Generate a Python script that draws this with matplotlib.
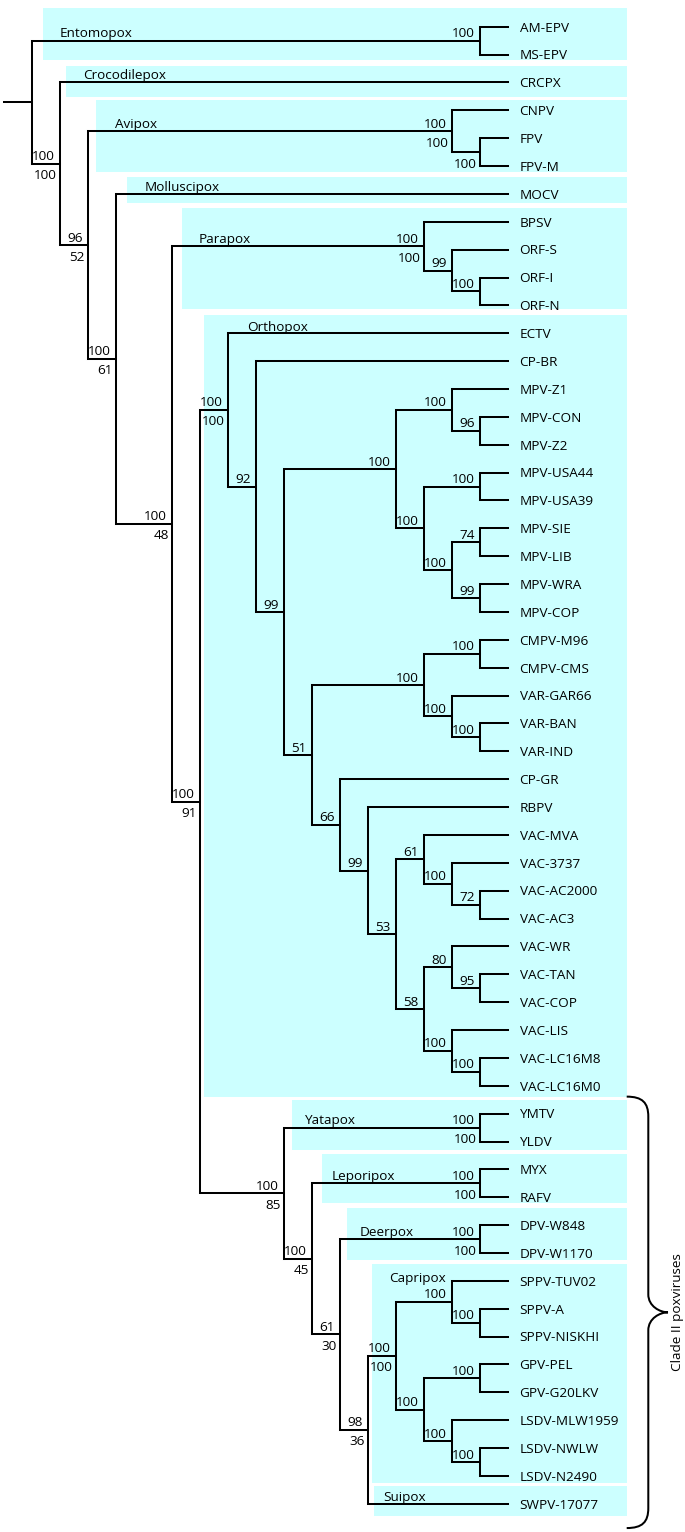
import matplotlib
matplotlib.use("Agg")
import matplotlib.pyplot as plt
from matplotlib.path import Path
from matplotlib.patches import PathPatch, Rectangle
from matplotlib.collections import LineCollection

# ---------------- data ----------------
# Tree topology with support values ("top/bottom") and branch lengths (in cladogram steps)
mpv_clade = ("((MPV-Z1:2,(MPV-CON:1,MPV-Z2:1)96:1)100:2,"
             "((MPV-USA44:1,MPV-USA39:1)100:2,((MPV-SIE:1,MPV-LIB:1)74:1,"
             "(MPV-WRA:1,MPV-COP:1)99:1)100:1)100:1)100:4")
var_clade = ("((CMPV-M96:1,CMPV-CMS:1)100:2,(VAR-GAR66:2,(VAR-BAN:1,VAR-IND:1)100:1)100:1)100:4")
vac61 = "(VAC-MVA:3,(VAC-3737:2,(VAC-AC2000:1,VAC-AC3:1)72:1)100:1)61:1"
vac58 = ("((VAC-WR:2,(VAC-TAN:1,VAC-COP:1)95:1)80:1,"
         "(VAC-LIS:2,(VAC-LC16M8:1,VAC-LC16M0:1)100:1)100:1)58:1")
ortho = ("(ECTV:10,(CP-BR:9,(" + mpv_clade + ",(" + var_clade +
         ",(CP-GR:6,(RBPV:5,(" + vac61 + "," + vac58 + ")53:1)99:1)66:1)51:1)99:1)92:1)100/100:1")
capri = ("((SPPV-TUV02:2,(SPPV-A:1,SPPV-NISKHI:1)100:1)100:2,"
         "((GPV-PEL:1,GPV-G20LKV:1)100:2,(LSDV-MLW1959:2,(LSDV-NWLW:1,LSDV-N2490:1)100:1)100:1)100:1)100/100:1")
clade2 = ("((YMTV:1,YLDV:1)100/100:7,((MYX:1,RAFV:1)100/100:6,"
          "((DPV-W848:1,DPV-W1170:1)100/100:5,(" + capri + ",SWPV-17077:5)98/36:1)61/30:1)100/45:1)100/85:3")
tree_newick = ("((AM-EPV:1,MS-EPV:1)100:16,(CRCPX:16,((CNPV:2,(FPV:1,FPV-M:1)/100:1)100/100:13,"
               "(MOCV:14,((BPSV:3,(ORF-S:2,(ORF-I:1,ORF-N:1)100:1)99:1)100/100:9,"
               "(" + ortho + "," + clade2 + ")100/91:1)100/48:2)100/61:1)96/52:1)100/100:1);")
root_stub = 1.0

clade_names = ["Entomopox", "Crocodilepox", "Avipox", "Molluscipox", "Parapox", "Orthopox",
               "Yatapox", "Leporipox", "Deerpox", "Capripox", "Suipox"]
clade_first = ["AM-EPV", "CRCPX", "CNPV", "MOCV", "BPSV", "ECTV",
               "YMTV", "MYX", "DPV-W848", "SPPV-TUV02", "SWPV-17077"]
clade_last = ["MS-EPV", "CRCPX", "FPV-M", "MOCV", "ORF-N", "VAC-LC16M0",
              "YLDV", "RAFV", "DPV-W1170", "LSDV-N2490", "SWPV-17077"]

bracket_label = "Clade II poxviruses"
bracket_first = "YMTV"
bracket_last = "SWPV-17077"

# ---------------- layout / style ----------------
W, H = 685, 1532
STEP_PX = 28.0      # px per cladogram step
X0_PX = 3.5         # px of depth 0
LEAF_PX = 27.87     # px per leaf
Y0_PX = 26.7        # px of first leaf
FONT = "Open Sans"
FS = 9.7
LW = 1.45
BOX_COLOR = "#ccffff"

# per-clade layout tweaks (px)
box_left_pad = [11, 6.7, 8.2, 11.5, 10, 4.8, 8.8, 10, 7.8, 4.2, 6.6]
box_top_pad = [0.66, 0.60, 0.37, 0.62, 0.48, 0.66, 0.49, 0.54, 0.62, 0.60, 0.65]   # leaf units
box_bot_pad = [0.20, 0.51, 0.20, 0.34, 0.13, 0.39, 0.30, 0.22, 0.25, 0.24, 0.44]
lab_dx = [28.5, 23.7, 27.5, 28.9, 26.7, 47.7, 21.4, 20.5, 19.8, 21.4, 16.2]
lab_anchor = ["stem", "stem", "stem", "stem", "stem", "first", "stem", "stem", "stem", "first", "stem"]
lab_dy = [3.2, 3.2, 3.2, 3.2, 3.2, 2.5, 3.2, 3.2, 3.2, -1.1, 3.2]   # baseline px above anchor
BOX_RIGHT_PX = 626.5


def px_x(p):
    return p / STEP_PX


def px_y(p):
    return p / LEAF_PX


# ---------------- parse tree ----------------
def parse_newick(s):
    pos = 0

    def node(parent):
        nonlocal pos
        n = {"children": [], "name": "", "len": 0.0, "parent": parent}
        if s[pos] == "(":
            pos += 1
            while True:
                n["children"].append(node(n))
                if s[pos] == ",":
                    pos += 1
                    continue
                if s[pos] == ")":
                    pos += 1
                    break
        start = pos
        while s[pos] not in ":,);":
            pos += 1
        n["name"] = s[start:pos]
        if s[pos] == ":":
            pos += 1
            start = pos
            while s[pos] not in ",);":
                pos += 1
            n["len"] = float(s[start:pos])
        return n

    return node(None)


root = parse_newick(tree_newick)
leaves = []
leaf_map = {}


def layout(n, x):
    n["x"] = x
    if not n["children"]:
        n["y"] = float(len(leaves))
        leaves.append(n)
        leaf_map[n["name"]] = n
    else:
        for c in n["children"]:
            layout(c, x + c["len"])
        n["y"] = (n["children"][0]["y"] + n["children"][-1]["y"]) / 2.0


layout(root, root_stub)


def ancestors(n):
    out = []
    while n is not None:
        out.append(n)
        n = n["parent"]
    return out


def mrca(a, b):
    anc = ancestors(a)
    ids = [id(q) for q in anc]
    m = b
    while id(m) not in ids:
        m = m["parent"]
    return m


# ---------------- figure ----------------
fig = plt.figure(figsize=(W / 100, H / 100), dpi=100)
ax = fig.add_axes([0, 0, 1, 1])
ax.set_xlim(-X0_PX / STEP_PX, (W - X0_PX) / STEP_PX)
ax.set_ylim((H - Y0_PX) / LEAF_PX, -Y0_PX / LEAF_PX)
ax.axis("off")

# clade boxes and labels
for i, name in enumerate(clade_names):
    a = leaf_map[clade_first[i]]
    b = leaf_map[clade_last[i]]
    m = mrca(a, b)
    stem_parent = m["parent"]
    left = stem_parent["x"] + px_x(box_left_pad[i])
    right = px_x(BOX_RIGHT_PX - X0_PX)
    top = a["y"] - box_top_pad[i]
    bot = b["y"] + box_bot_pad[i]
    ax.add_patch(Rectangle((left, top), right - left, bot - top, facecolor=BOX_COLOR,
                           edgecolor="none", zorder=0))
    anchor_y = m["y"] if lab_anchor[i] == "stem" else a["y"]
    ax.text(stem_parent["x"] + px_x(lab_dx[i]), anchor_y - px_y(lab_dy[i]), name,
            ha="left", va="baseline", fontsize=FS, family=FONT, zorder=3)

# branches
segs = [[(0, root["y"]), (root["x"], root["y"])]]


def collect(n):
    if n["children"]:
        ys = [c["y"] for c in n["children"]]
        segs.append([(n["x"], min(ys)), (n["x"], max(ys))])
        for c in n["children"]:
            segs.append([(n["x"], c["y"]), (c["x"], c["y"])])
            collect(c)


collect(root)
ax.add_collection(LineCollection(segs, colors="black", linewidths=LW,
                                 capstyle="projecting", joinstyle="miter", zorder=2))

# leaf labels
for lf in leaves:
    ax.text(lf["x"] + px_x(12), lf["y"] + px_y(4.8), lf["name"], ha="left", va="baseline",
            fontsize=FS, family=FONT, zorder=3)

# support labels
def supports(n):
    if n["children"]:
        if n["name"] and n is not root:
            parts = n["name"].split("/")
            top = parts[0]
            bot = parts[1] if len(parts) > 1 else ""
            if top:
                ax.text(n["x"] - px_x(5), n["y"] - px_y(3.5), top, ha="right", va="baseline",
                        fontsize=FS, family=FONT, zorder=3)
            if bot:
                ax.text(n["x"] - px_x(2.5), n["y"] + px_y(15.5), bot, ha="right", va="baseline",
                        fontsize=FS, family=FONT, zorder=3)
        for c in n["children"]:
            supports(c)


supports(root)

# bracket for Clade II
bt = leaf_map[bracket_first]["y"] - 0.61
bb = leaf_map[bracket_last]["y"] + 0.87
bm = (bt + bb) / 2
x_end = px_x(626.7 - X0_PX)
x_mid = px_x(648.3 - X0_PX)
x_tip = px_x(668.0 - X0_PX)
c1 = px_y(20)
c2 = px_y(18)
verts = [
    (x_end, bt),
    (x_mid - px_x(6), bt), (x_mid, bt + px_y(6)), (x_mid, bt + c1),
    (x_mid, bm - c2),
    (x_mid, bm - px_y(6)), (x_tip - px_x(8), bm), (x_tip, bm),
    (x_tip - px_x(8), bm), (x_mid, bm + px_y(6)), (x_mid, bm + c2),
    (x_mid, bb - c1),
    (x_mid, bb - px_y(6)), (x_mid - px_x(6), bb), (x_end, bb),
]
codes = [Path.MOVETO,
         Path.CURVE4, Path.CURVE4, Path.CURVE4,
         Path.LINETO,
         Path.CURVE4, Path.CURVE4, Path.CURVE4,
         Path.CURVE4, Path.CURVE4, Path.CURVE4,
         Path.LINETO,
         Path.CURVE4, Path.CURVE4, Path.CURVE4]
ax.add_patch(PathPatch(Path(verts, codes), facecolor="none", edgecolor="black",
                       linewidth=LW, zorder=2))
ax.text(px_x(677 - X0_PX), bm, bracket_label, rotation=90, ha="center", va="center",
        fontsize=FS, family=FONT, zorder=3)

fig.savefig("out.png", dpi=100)
